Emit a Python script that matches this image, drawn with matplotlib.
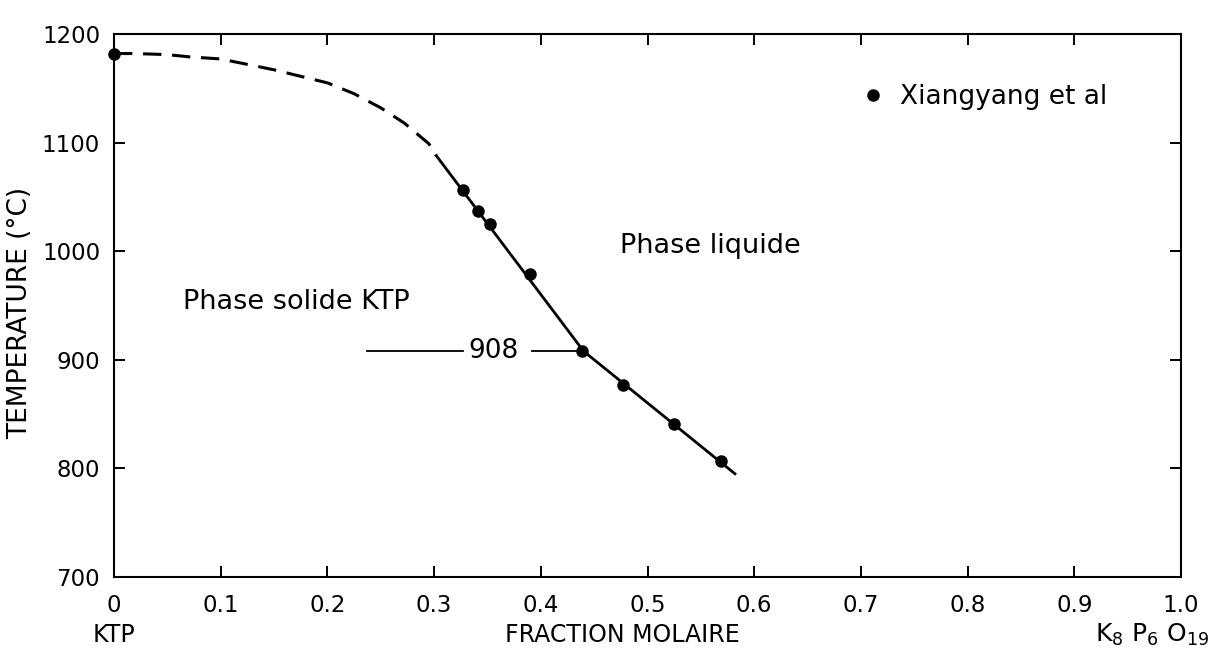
import matplotlib
matplotlib.use("Agg")
import matplotlib.pyplot as plt

# liquidus of KTP, extrapolated part (dashed)
dash_x = [0.0, 0.02, 0.05, 0.07, 0.10, 0.125, 0.15, 0.175, 0.20, 0.225, 0.25, 0.272, 0.295, 0.302]
dash_T = [1182, 1182, 1181, 1179, 1177, 1172, 1167, 1161, 1155, 1145, 1132, 1118, 1099, 1088]

# measured part (solid)
solid_x = [0.302, 0.44, 0.582]
solid_T = [1088, 908, 795]

# Xiangyang et al points
pts_x = [0.0, 0.327, 0.341, 0.352, 0.390, 0.439, 0.477, 0.525, 0.569]
pts_T = [1182, 1056, 1037, 1025, 979, 908, 877, 841, 807]

# 908 tie line
tie_T = 908
tie_left = [0.237, 0.327]
tie_right = [0.392, 0.437]

xticks = [0.0, 0.1, 0.2, 0.3, 0.4, 0.5, 0.6, 0.7, 0.8, 0.9, 1.0]
xticklabels = ['0', '0.1', '0.2', '0.3', '0.4', '0.5', '0.6', '0.7', '0.8', '0.9', '1.0']
yticks = [700, 800, 900, 1000, 1100, 1200]

fig = plt.figure(figsize=(12.17, 6.6), dpi=100)
ax = fig.add_axes([0.0937, 0.1258, 0.8767, 0.8227])

ax.plot(dash_x, dash_T, color='black', lw=2.2, linestyle=(0, (6, 3.5)))
ax.plot(solid_x, solid_T, color='black', lw=2)
ax.plot(pts_x, pts_T, 'o', color='black', ms=8, ls='none', clip_on=False, zorder=5,
        label='Xiangyang et al')

ax.plot(tie_left, [tie_T, tie_T], color='black', lw=1.3)
ax.plot(tie_right, [tie_T, tie_T], color='black', lw=1.3)
ax.text(0.356, tie_T, str(tie_T), fontsize=19, ha='center', va='center')

ax.text(0.065, 953, 'Phase solide KTP', fontsize=19.5, va='center', ha='left')
ax.text(0.474, 1005, 'Phase liquide', fontsize=19.5, va='center', ha='left')

ax.legend(loc='center left', bbox_to_anchor=(0.7016, 0.884), frameon=False, fontsize=19,
          handlelength=0.8, handletextpad=0.6, borderpad=0, borderaxespad=0, numpoints=1)

ax.set_xlim(0, 1.0)
ax.set_ylim(700, 1200)
ax.set_xticks(xticks)
ax.set_xticklabels(xticklabels)
ax.set_yticks(yticks)
ax.tick_params(direction='in', top=True, right=True, length=8, width=1.4,
               labelsize=16.5, colors='black')
ax.tick_params(axis='x', pad=12)
ax.tick_params(axis='y', pad=10)
for s in ax.spines.values():
    s.set_linewidth(1.5)

ax.set_ylabel('TEMPERATURE (°C)', fontsize=19)
ax.yaxis.set_label_coords(-0.076, 0.486)

trans = ax.get_xaxis_transform()
ax.text(0.0, -0.107, 'KTP', fontsize=17, ha='center', va='center', transform=trans)
ax.text(0.476, -0.107, 'FRACTION MOLAIRE', fontsize=17, ha='center', va='center', transform=trans)
ax.text(1.027, -0.107, r'K$_8$ P$_6$ O$_{19}$', fontsize=18, ha='right', va='center',
        transform=trans)

fig.savefig('out.png', dpi=100)
